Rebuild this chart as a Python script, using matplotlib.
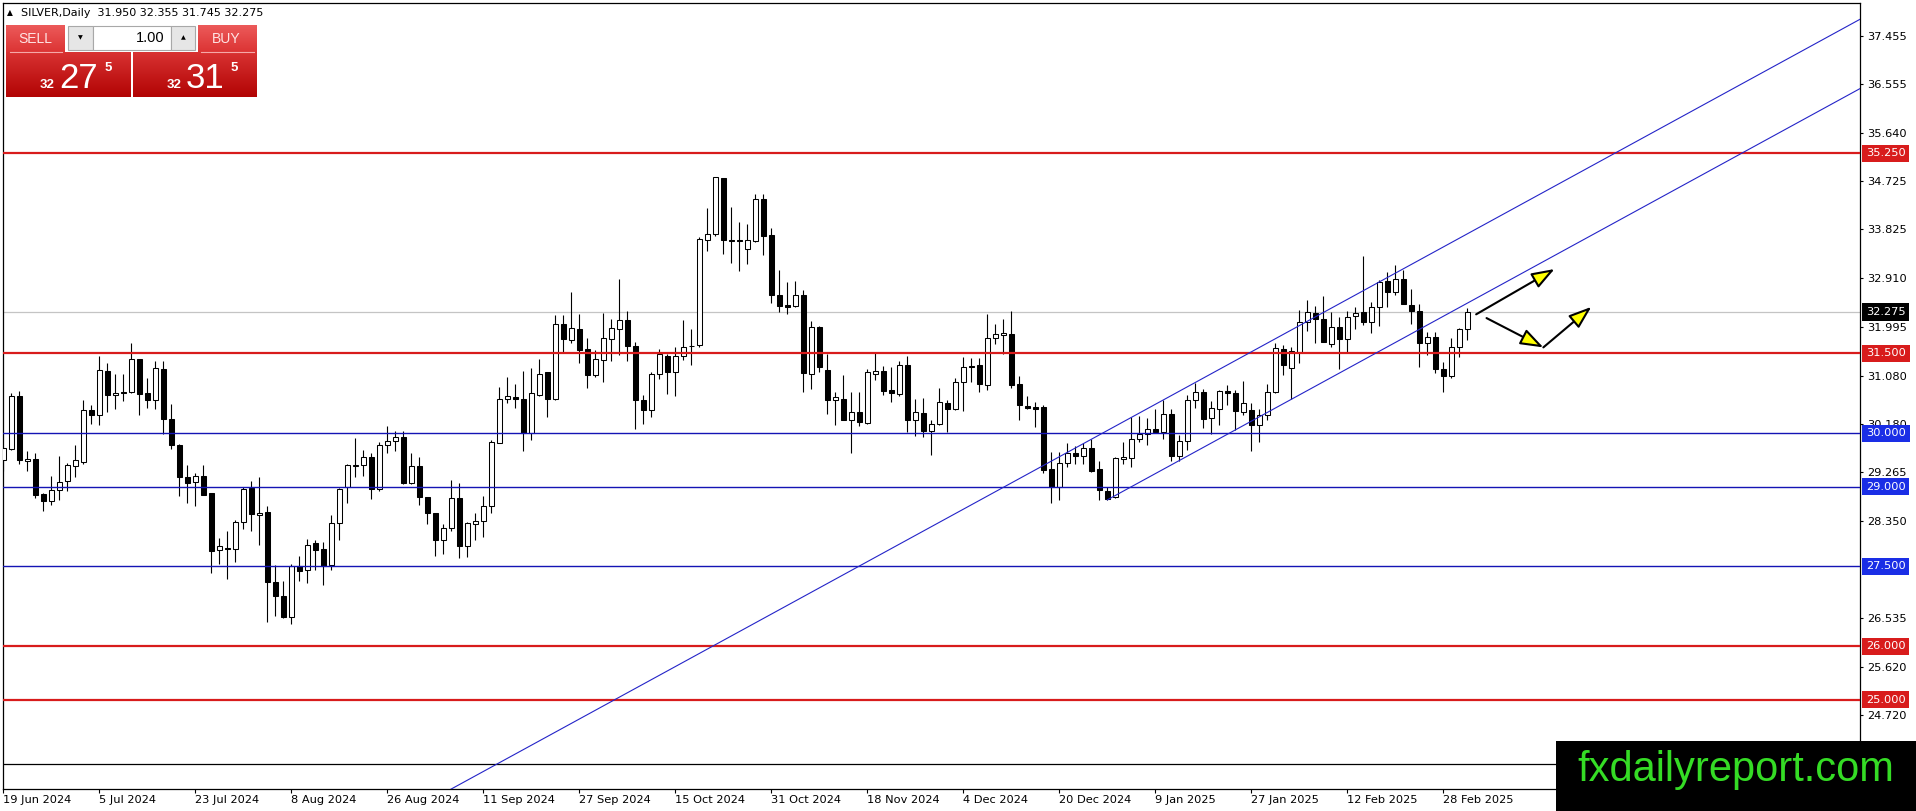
import numpy as np
import matplotlib
matplotlib.use("Agg")
import matplotlib.pyplot as plt
from matplotlib.patches import Rectangle, FancyArrowPatch
from matplotlib.colors import LinearSegmentedColormap

W, H = 1916, 811

# daily bars, index 0 = 19 Jun 2024, a date label every 12 bars
date_labels = ["19 Jun 2024", "5 Jul 2024", "23 Jul 2024", "8 Aug 2024", "26 Aug 2024",
               "11 Sep 2024", "27 Sep 2024", "15 Oct 2024", "31 Oct 2024", "18 Nov 2024",
               "4 Dec 2024", "20 Dec 2024", "9 Jan 2025", "27 Jan 2025", "12 Feb 2025",
               "28 Feb 2025"]
label_step = 12

opens = [29.49, 29.70, 30.70, 29.47, 29.52, 28.86, 28.73, 28.93, 29.11, 29.39,
         29.46, 30.44, 30.35, 31.16, 30.71, 30.78, 30.77, 31.40, 30.75, 30.62,
         31.20, 30.26, 29.78, 29.18, 29.08, 29.20, 28.87, 27.80, 27.84, 27.82,
         28.34, 28.97, 28.47, 28.53, 27.20, 26.95, 26.56, 27.50, 27.43, 27.94,
         27.83, 27.52, 28.31, 28.99, 29.39, 29.40, 29.55, 28.95, 29.78, 29.86,
         29.93, 29.07, 29.38, 28.80, 28.51, 27.99, 28.23, 28.79, 27.88, 28.30,
         28.36, 28.63, 29.82, 30.65, 30.68, 30.64, 30.01, 30.72, 31.14, 30.65,
         32.04, 31.75, 31.95, 31.58, 31.09, 31.38, 31.77, 31.96, 32.12, 31.64,
         30.62, 30.43, 31.12, 31.44, 31.14, 31.44, 31.63, 31.65, 33.62, 33.73,
         34.79, 33.63, 33.63, 33.45, 33.60, 34.40, 33.71, 32.60, 32.40, 32.39,
         32.60, 31.12, 31.99, 31.19, 30.63, 30.65, 30.24, 30.40, 30.19, 31.12,
         31.16, 30.81, 30.74, 31.28, 30.24, 30.38, 30.04, 30.17, 30.57, 30.46,
         30.97, 31.27, 31.28, 30.90, 31.79, 31.84, 31.87, 30.92, 30.51, 30.49,
         30.49, 29.32, 28.99, 29.45, 29.63, 29.57, 29.73, 29.32, 28.91, 28.80,
         29.51, 29.54, 29.89, 29.99, 30.07, 30.02, 30.36, 29.57, 29.85, 30.62,
         30.78, 30.29, 30.46, 30.80, 30.75, 30.40, 30.44, 30.16, 30.35, 30.77,
         31.58, 31.23, 31.52, 32.08, 32.25, 32.15, 31.67, 31.99, 31.76, 32.19,
         32.27, 32.09, 32.36, 32.85, 32.64, 32.90, 32.41, 32.30, 31.69, 31.80,
         31.21, 31.07, 31.62, 31.950]
highs = [29.75, 30.76, 30.79, 29.67, 29.62, 28.87, 29.19, 29.57, 29.44, 29.78,
         30.63, 30.53, 31.44, 31.31, 31.11, 31.11, 31.70, 31.40, 31.03, 31.35,
         31.36, 30.55, 29.80, 29.40, 29.25, 29.40, 28.87, 28.03, 28.16, 28.37,
         29.00, 29.10, 29.18, 28.63, 27.52, 27.23, 27.54, 27.70, 28.01, 28.00,
         27.96, 28.47, 28.98, 29.43, 29.91, 29.68, 29.62, 29.84, 30.14, 30.04,
         30.04, 29.62, 29.55, 28.81, 28.51, 28.30, 29.12, 29.06, 28.33, 28.51,
         28.82, 29.88, 30.86, 31.05, 30.93, 31.17, 31.23, 31.39, 31.14, 32.22,
         32.22, 32.64, 32.23, 31.78, 31.57, 32.25, 32.15, 32.90, 32.29, 31.71,
         30.72, 31.14, 31.58, 31.48, 31.62, 32.12, 31.96, 33.68, 34.22, 34.81,
         34.79, 34.25, 33.96, 33.93, 34.48, 34.48, 33.85, 33.06, 32.83, 32.86,
         32.68, 32.10, 32.02, 31.49, 30.78, 31.09, 30.78, 30.77, 31.21, 31.50,
         31.27, 31.25, 31.35, 31.44, 30.64, 30.66, 30.25, 30.85, 30.63, 31.03,
         31.43, 31.41, 31.41, 32.23, 32.04, 32.14, 32.29, 31.07, 30.69, 30.58,
         30.53, 29.65, 29.65, 29.82, 29.76, 29.81, 29.89, 29.48, 29.00, 29.55,
         29.84, 30.30, 30.33, 30.28, 30.45, 30.63, 30.46, 29.96, 30.72, 30.94,
         30.83, 30.61, 30.82, 30.90, 30.82, 30.98, 30.56, 30.46, 30.92, 31.69,
         31.66, 31.62, 32.32, 32.49, 32.39, 32.58, 32.27, 32.18, 32.30, 32.36,
         33.33, 32.46, 32.88, 33.03, 33.15, 33.06, 32.70, 32.42, 31.90, 31.90,
         31.34, 31.78, 31.98, 32.355]
lows = [29.30, 29.68, 29.43, 29.30, 28.79, 28.54, 28.65, 28.74, 28.92, 29.17,
        29.43, 30.17, 30.15, 30.39, 30.46, 30.61, 30.75, 30.35, 30.48, 30.45,
        29.99, 29.70, 28.83, 28.70, 28.63, 28.84, 27.38, 27.55, 27.27, 27.59,
        28.20, 28.17, 27.91, 26.46, 26.57, 26.54, 26.42, 27.22, 27.19, 27.44,
        27.15, 27.44, 28.00, 28.69, 29.17, 29.19, 28.77, 28.91, 29.62, 29.67,
        29.04, 29.05, 28.65, 28.30, 27.69, 27.74, 28.17, 27.66, 27.68, 28.00,
        28.05, 28.50, 29.81, 30.56, 30.48, 29.67, 29.87, 30.69, 30.31, 30.62,
        31.52, 31.69, 31.32, 30.84, 31.06, 30.96, 31.36, 31.47, 31.35, 30.07,
        30.17, 30.31, 31.02, 30.73, 30.70, 31.37, 31.28, 31.61, 33.41, 33.70,
        33.37, 33.19, 33.04, 33.17, 33.58, 33.35, 32.44, 32.28, 32.23, 32.37,
        30.78, 30.83, 31.15, 30.36, 30.15, 30.24, 29.63, 30.14, 30.18, 31.00,
        30.72, 30.59, 30.70, 30.02, 29.95, 29.92, 29.59, 30.15, 30.02, 30.43,
        30.42, 30.97, 30.78, 30.82, 31.67, 31.48, 30.84, 30.24, 30.45, 30.11,
        29.26, 28.70, 28.75, 29.36, 29.43, 29.43, 29.27, 28.75, 28.74, 28.78,
        29.43, 29.36, 29.83, 29.77, 30.00, 29.89, 29.48, 29.47, 29.68, 30.48,
        30.09, 29.98, 30.16, 30.52, 30.06, 30.35, 29.67, 29.83, 30.25, 30.76,
        31.10, 30.64, 31.31, 31.92, 31.70, 31.71, 31.62, 31.20, 31.51, 31.96,
        32.03, 31.88, 32.02, 32.37, 32.59, 32.42, 32.05, 31.25, 31.46, 31.13,
        30.78, 31.04, 31.43, 31.745]
closes = [29.72, 30.70, 29.50, 29.52, 28.85, 28.72, 28.93, 29.08, 29.40, 29.49,
          30.43, 30.35, 31.18, 30.71, 30.75, 30.76, 31.40, 30.74, 30.63, 31.22,
          30.26, 29.78, 29.17, 29.07, 29.19, 28.85, 27.79, 27.89, 27.82, 28.34,
          28.95, 28.48, 28.51, 27.20, 26.94, 26.55, 27.51, 27.41, 27.91, 27.80,
          27.51, 28.32, 28.96, 29.40, 29.40, 29.56, 28.95, 29.78, 29.86, 29.93,
          29.07, 29.38, 28.80, 28.50, 28.00, 28.23, 28.78, 27.89, 28.32, 28.36,
          28.63, 29.83, 30.65, 30.69, 30.65, 30.01, 30.75, 31.12, 30.65, 32.04,
          31.76, 31.97, 31.57, 31.09, 31.40, 31.78, 31.97, 32.12, 31.63, 30.63,
          30.43, 31.12, 31.48, 31.15, 31.45, 31.62, 31.64, 33.65, 33.73, 34.80,
          33.63, 33.61, 33.61, 33.62, 34.40, 33.70, 32.59, 32.39, 32.37, 32.60,
          31.13, 31.99, 31.24, 30.63, 30.68, 30.25, 30.40, 30.21, 31.14, 31.17,
          30.80, 30.75, 31.28, 30.24, 30.40, 30.04, 30.17, 30.58, 30.46, 30.97,
          31.25, 31.25, 30.93, 31.79, 31.87, 31.88, 30.91, 30.52, 30.48, 30.46,
          29.31, 28.99, 29.45, 29.63, 29.57, 29.73, 29.30, 28.93, 28.76, 29.53,
          29.56, 29.90, 29.98, 30.07, 30.02, 30.36, 29.57, 29.86, 30.63, 30.78,
          30.27, 30.48, 30.80, 30.76, 30.41, 30.56, 30.16, 30.35, 30.77, 31.59,
          31.28, 31.54, 32.08, 32.27, 32.15, 31.72, 31.99, 31.76, 32.18, 32.26,
          32.09, 32.36, 32.84, 32.64, 32.90, 32.43, 32.30, 31.70, 31.80, 31.21,
          31.07, 31.62, 31.95, 32.275]

price_ticks = [37.455, 36.555, 35.640, 34.725, 33.825, 32.910, 31.995, 31.080,
               30.180, 29.265, 28.350, 26.535, 25.620, 24.720]
red_levels = [35.25, 31.5, 26.0, 25.0]
blue_levels = [30.0, 29.0, 27.5]
black_level = 23.8
bid = 32.275

# rising channel: common slope per bar, anchor (bar, price) for each line
channel_slope = 0.082
upper_anchor = (150.8, 31.10)
lower_anchor = (138.0, 28.75)

# scenario arrows (bar, price) -> (bar, price)
arrows = [((184.1, 32.23), (193.9, 33.08)),
          ((185.4, 32.16), (192.5, 31.61)),
          ((192.5, 31.61), (198.5, 32.37))]

RED = "#d81c1c"
BLUE = "#1414b4"

fig = plt.figure(figsize=(W / 100, H / 100), dpi=100)
ax = fig.add_axes([2.5 / W, (H - 788.5) / H, 1857 / W, 786 / H])
ax.set_facecolor("white")

# candles
x = np.arange(len(opens))
o = np.array(opens)
c = np.array(closes)
up = c > o
ax.vlines(x, lows, highs, color="black", lw=0.8, zorder=2)
ax.bar(x[up], (c - o)[up], bottom=o[up], width=0.62, color="white",
       edgecolor="black", lw=0.75, zorder=3)
ax.bar(x[~up], (o - c)[~up], bottom=c[~up], width=0.62, color="black",
       edgecolor="black", lw=0.75, zorder=3)

# levels
ax.axhline(bid, color="#c4c4c4", lw=0.9, zorder=1)
for lv in red_levels:
    ax.axhline(lv, color=RED, lw=1.6, zorder=4)
for lv in blue_levels:
    ax.axhline(lv, color=BLUE, lw=1.0, zorder=4)
ax.axhline(black_level, color="black", lw=0.9, zorder=4)

# channel
xu = np.array([40.0, 240.0])
ax.plot(xu, upper_anchor[1] + channel_slope * (xu - upper_anchor[0]),
        color="#2424c8", lw=0.8, zorder=4)
xl = np.array([lower_anchor[0], 240.0])
ax.plot(xl, lower_anchor[1] + channel_slope * (xl - lower_anchor[0]),
        color="#2424c8", lw=0.8, zorder=4)

for a, b in arrows:
    ax.add_patch(FancyArrowPatch(a, b, arrowstyle="-|>,head_length=1.4,head_width=0.5",
                                 mutation_scale=10, fc="#ffff00", ec="black", lw=1.5,
                                 shrinkA=0, shrinkB=0, zorder=6))

ax.set_xlim(-0.104, 232.02)
ax.set_ylim(23.335, 38.08)

# axes look
for s in ax.spines.values():
    s.set_color("black")
    s.set_linewidth(0.9)
ax.yaxis.tick_right()
ax.set_yticks(price_ticks)
ax.set_yticklabels([f"{p:.3f}" for p in price_ticks])
ax.tick_params(axis="y", direction="out", length=2.5, width=0.8, pad=3,
               labelsize=8.2, colors="black")
ax.set_xticks(np.arange(len(date_labels)) * label_step)
ax.set_xticklabels(date_labels, ha="left")
ax.tick_params(axis="x", direction="out", length=3, width=0.8, pad=2,
               labelsize=8.2, colors="black")

tr = ax.get_yaxis_transform()
level_tags = [(lv, RED) for lv in red_levels] + [(lv, "#1a2ee6") for lv in blue_levels] \
    + [(bid, "black")]
for lv, col in level_tags:
    ax.text(1.0035, lv, f"{lv:.3f}", transform=tr, ha="left", va="center",
            color="white", fontsize=8.2, clip_on=False, zorder=10,
            bbox=dict(boxstyle="square,pad=0.32", fc=col, ec="none"))

# overlay in pixel units: header, trade panel, logo
ui = fig.add_axes([0, 0, 1, 1], zorder=10)
ui.patch.set_alpha(0)
ui.axis("off")


def grad_rect(x0, y0, x1, y1, c_top, c_bot):
    cmap = LinearSegmentedColormap.from_list("g", [c_top, c_bot])
    ui.imshow(np.linspace(0, 1, 64).reshape(-1, 1), extent=(x0, x1, y1, y0),
              cmap=cmap, aspect="auto", interpolation="bilinear", zorder=1)


ui.text(7, 12.5, "\u25b2", fontsize=5.5, va="center", ha="left")
ui.text(21.5, 12.5, "SILVER,Daily  31.950 32.355 31.745 32.275", fontsize=8,
        va="center", ha="left")

grad_rect(6, 25, 65, 52, "#ec5a5a", "#dc3434")
grad_rect(198, 25, 257, 52, "#ec5a5a", "#dc3434")
grad_rect(6, 52, 131, 97, "#d83232", "#b20404")
grad_rect(133, 52, 257, 97, "#d83232", "#b20404")
ui.plot([10, 62], [51.8, 51.8], color="#f5a8a8", lw=0.8, zorder=2)
ui.plot([201, 254], [51.8, 51.8], color="#f5a8a8", lw=0.8, zorder=2)
ui.add_patch(Rectangle((68, 26), 25, 24, fc="#e6e6e6", ec="#a8a8a8", lw=0.8, zorder=2))
ui.add_patch(Rectangle((93, 26), 78, 24, fc="white", ec="#a8a8a8", lw=0.8, zorder=2))
ui.add_patch(Rectangle((171, 26), 24, 24, fc="#e6e6e6", ec="#a8a8a8", lw=0.8, zorder=2))
ui.text(80.5, 38, "\u25bc", fontsize=4.5, ha="center", va="center", zorder=3)
ui.text(183, 38, "\u25b2", fontsize=4.5, ha="center", va="center", zorder=3)
ui.text(165, 38, "1.00", fontsize=10.5, family="Liberation Sans", ha="right",
        va="center", zorder=3)
ui.text(35, 39, "SELL", fontsize=10, family="Liberation Sans", color="#ffe4e4",
        ha="center", va="center", zorder=3)
ui.text(226, 39, "BUY", fontsize=10, family="Liberation Sans", color="#ffe4e4",
        ha="center", va="center", zorder=3)

for big, x_small, x_big, x_sup in [("27", 55, 59, 105), ("31", 182, 186, 231)]:
    ui.text(x_small, 87.5, "32", fontsize=9.5, weight="bold", family="Liberation Sans",
            color="white", ha="right", va="baseline", zorder=3)
    ui.text(x_big, 88.3, big, fontsize=25, family="Liberation Sans", color="white",
            ha="left", va="baseline", zorder=3)
    ui.text(x_sup, 71, "5", fontsize=9.5, weight="bold", family="Liberation Sans",
            color="white", ha="left", va="baseline", zorder=3)

ui.add_patch(Rectangle((1556, 741), W - 1556, H - 741, fc="black", ec="none", zorder=4))
ui.text(1736, 781.5, "fxdailyreport.com", fontsize=30, family="Liberation Sans",
        color="#35dc25", ha="center", va="baseline", zorder=5)

ui.set_xlim(0, W)
ui.set_ylim(H, 0)

fig.savefig("out.png", dpi=100)
